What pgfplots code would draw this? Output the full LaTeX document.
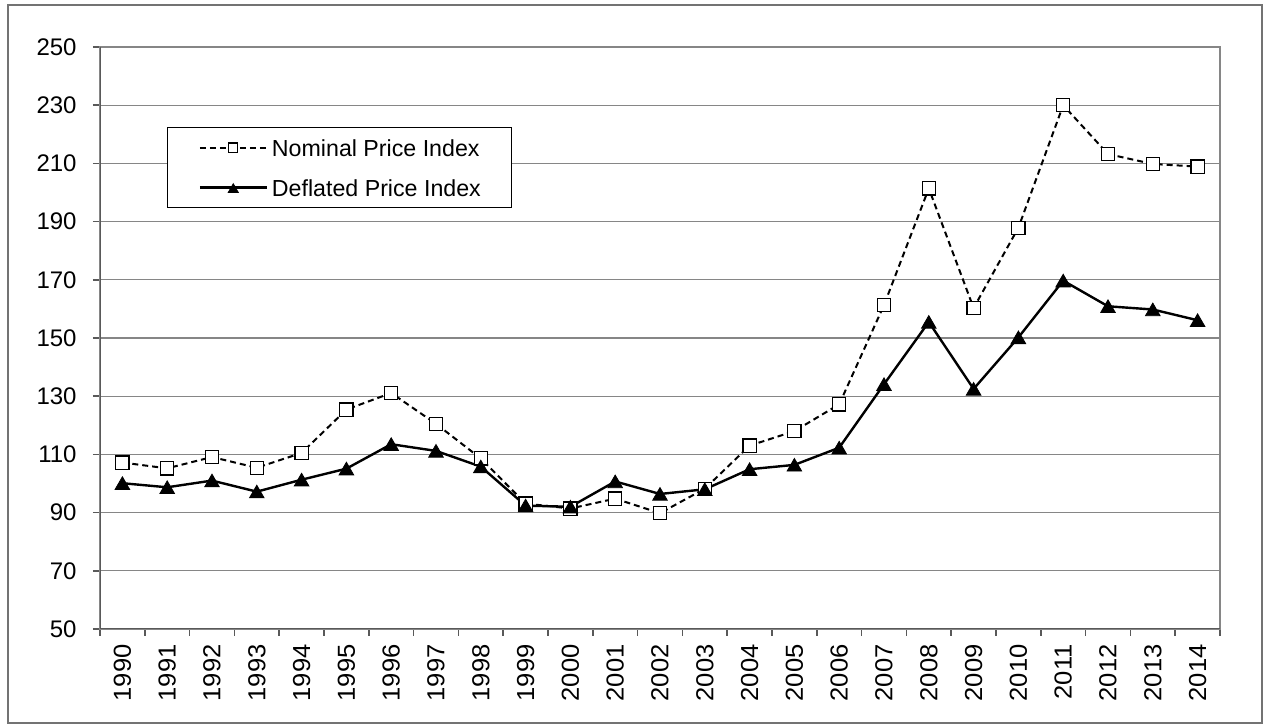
\documentclass[border=0pt]{standalone}
\usepackage{pgfplots}
\pgfplotsset{compat=1.18}
\usepackage{fontspec}
\setmainfont{Liberation Sans}
\newfontfamily\stretchfont[FakeStretch=1.04]{Liberation Sans}
\definecolor{gridgray}{HTML}{868686}
\definecolor{axdark}{HTML}{595959}
\pgfplotstableread{
x year nominal deflated
0 1990 107.2 100.1
1 1991 105.2 98.7
2 1992 109.1 101.0
3 1993 105.4 97.2
4 1994 110.5 101.3
5 1995 125.4 105.1
6 1996 131.1 113.5
7 1997 120.5 111.2
8 1998 108.6 105.8
9 1999 93.1 92.4
10 2000 91.4 92.0
11 2001 94.8 100.7
12 2002 89.8 96.4
13 2003 98.2 98.0
14 2004 113.0 104.9
15 2005 118.0 106.4
16 2006 127.2 112.3
17 2007 161.3 134.1
18 2008 201.4 155.5
19 2009 160.3 132.5
20 2010 187.9 150.2
21 2011 230.0 169.7
22 2012 213.2 160.9
23 2013 209.8 159.8
24 2014 208.9 156.1
}\datatable
\begin{document}
\begin{tikzpicture}[x=1pt,y=1pt]
\useasboundingbox (0,0) rectangle (633,-363);
\draw[black!55, line width=0.6pt] (4,-2.5) rectangle (631,-361.5);
\begin{axis}[
  at={(50pt,-314.5pt)}, anchor=south west,
  scale only axis, width=560pt, height=291pt,
  xmin=-0.5, xmax=24.5, ymin=50, ymax=250,
  xtick={0,...,24},
  xticklabels={1990,1991,1992,1993,1994,1995,1996,1997,1998,1999,2000,2001,2002,2003,2004,2005,2006,2007,2008,2009,2010,2011,2012,2013,2014},
  minor xtick={-0.5,0.5,...,24.5},
  ytick={50,70,...,250},
  tick align=outside,
  xtick pos=left, ytick pos=left,
  major tick length=3.5pt, minor tick length=3.5pt,
  major x tick style={draw=none},
  every tick/.style={axdark, line width=0.8pt},
  minor x tick style={axdark, line width=0.8pt},
  ymajorgrids,
  major grid style={gridgray, line width=0.6pt},
  axis line style={gridgray, line width=1pt},
  /pgf/number format/assume math mode=true,
  tick label style={font=\fontsize{12}{14}\selectfont, inner sep=0pt},
  xticklabel style={font=\stretchfont\fontsize{12.3}{14}\selectfont, yshift=-4pt, rotate=90, anchor=east},
  yticklabel style={anchor=east, xshift=-8pt},
  legend style={at={(0.0598,0.8625)}, anchor=north west, draw=black, line width=0.6pt, fill=white,
    inner xsep=15.5pt, inner ysep=0pt, font=\fontsize{11.6}{13}\selectfont, row sep=0pt,
    nodes={inner sep=0pt, text height=14.2pt, text depth=5.8pt},
    /tikz/every odd column/.append style={column sep=2pt}},
  legend cell align=left,
  legend image code/.code={\draw[mark repeat=2,mark phase=2,#1, every mark/.append style={scale=0.7}] plot coordinates {(0pt,0pt) (16.75pt,0pt) (33.5pt,0pt)};},
]
\addplot[black, line width=1pt, dash pattern=on 3pt off 2pt, mark=square*, mark size=3.3pt,
  mark options={solid, fill=white, line width=0.6pt}] table[x=x, y=nominal] {\datatable};
\addlegendentry{Nominal Price Index}
\addplot[black, line width=1.2pt, mark=triangle*, mark size=4.2pt,
  mark options={solid, fill=black, line width=0.4pt, yshift=-1pt}] table[x=x, y=deflated] {\datatable};
\addlegendentry{Deflated Price Index}
\draw[axdark, line width=1pt] (rel axis cs:0,1) -- (rel axis cs:0,0) -- (rel axis cs:1,0);
\end{axis}
\end{tikzpicture}
\end{document}
